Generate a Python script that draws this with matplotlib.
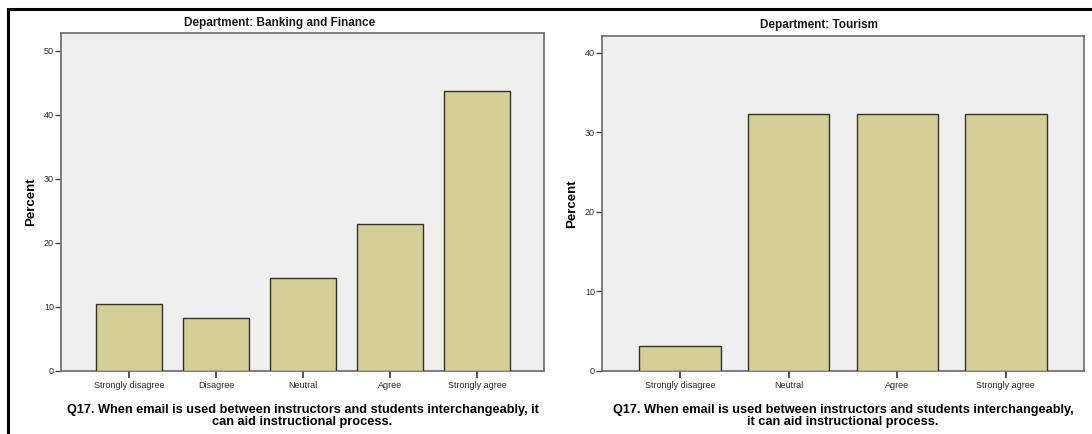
import matplotlib
matplotlib.use("Agg")
import matplotlib.pyplot as plt
from matplotlib.lines import Line2D
import numpy as np

# Data
bf_categories = ["Strongly disagree", "Disagree", "Neutral", "Agree", "Strongly agree"]
bf_percent = [10.4, 8.3, 14.6, 22.9, 43.8]
tour_categories = ["Strongly disagree", "Neutral", "Agree", "Strongly agree"]
tour_percent = [3.2, 32.3, 32.3, 32.3]
bf_yticks = [0, 10, 20, 30, 40, 50]
tour_yticks = [0, 10, 20, 30, 40]

bf_title = "Department: Banking and Finance"
tour_title = "Department: Tourism"
bf_xlabel = "Q17. When email is used between instructors and students interchangeably, it\ncan aid instructional process."
tour_xlabel = "Q17. When email is used between instructors and students interchangeably,\nit can aid instructional process."

narrow = ["Liberation Sans Narrow", "Liberation Sans", "DejaVu Sans"]
regular = ["Liberation Sans", "DejaVu Sans"]

W, H = 1092, 434
fig = plt.figure(figsize=(W / 100, H / 100), dpi=100)
fig.patch.set_facecolor("white")

# outer frame (top and left lines)
fig.add_artist(Line2D([8 / W, 1.0], [1 - 9 / H, 1 - 9 / H], color="black", lw=2.2, transform=fig.transFigure))
fig.add_artist(Line2D([8 / W, 8 / W], [0, 1 - 9 / H], color="black", lw=2.2, transform=fig.transFigure))

bar_color = "#D4CE97"
edge_color = "#33332a"
bg = "#EFEFEF"
spine_c = "#6a6a6a"


def panel(rect, cats, vals, yticks, ymax, xlim, title, title_xy, xlabel, xlabelpad):
    ax = fig.add_axes(rect)
    ax.set_facecolor(bg)
    x = np.arange(len(cats))
    ax.bar(x, vals, width=0.75, color=bar_color, edgecolor=edge_color, linewidth=1.0, zorder=3)
    ax.set_xlim(*xlim)
    ax.set_ylim(0, ymax)
    ax.set_xticks(x)
    ax.set_xticklabels(cats, fontsize=6.5, family=narrow, color="#2a2a2a")
    ax.set_yticks(yticks)
    ax.set_yticklabels([str(t) for t in yticks], fontsize=6.5, family=narrow, color="#2a2a2a")
    ax.tick_params(axis="y", direction="out", length=4, width=1, color="#444444", pad=1)
    ax.tick_params(axis="x", direction="out", length=5, width=1.2, color="#333333", pad=2.5)
    for s in ax.spines.values():
        s.set_color(spine_c)
        s.set_linewidth(1.2)
    fig.text(title_xy[0] / W, 1 - title_xy[1] / H, title, fontsize=8.5, fontweight="bold",
             family=narrow, color="#1a1a1a", ha="center", va="center")
    ax.set_ylabel("Percent", fontsize=9.5, fontweight="bold", family=regular, labelpad=5)
    ax.set_xlabel(xlabel, fontsize=9.2, fontweight="bold", family=regular, linespacing=1.0,
                  labelpad=xlabelpad)
    return ax


ax1 = panel([61 / W, (H - 371) / H, (544 - 61) / W, (371 - 33) / H],
            bf_categories, bf_percent, bf_yticks, 52.8, (-0.78, 4.77),
            bf_title, (280, 23), bf_xlabel, 10)
ax2 = panel([602 / W, (H - 371) / H, (1084 - 602) / W, (371 - 36) / H],
            tour_categories, tour_percent, tour_yticks, 42.1, (-0.72, 3.72),
            tour_title, (819, 25), tour_xlabel, 10)

fig.savefig("out.png", dpi=100, facecolor="white")
